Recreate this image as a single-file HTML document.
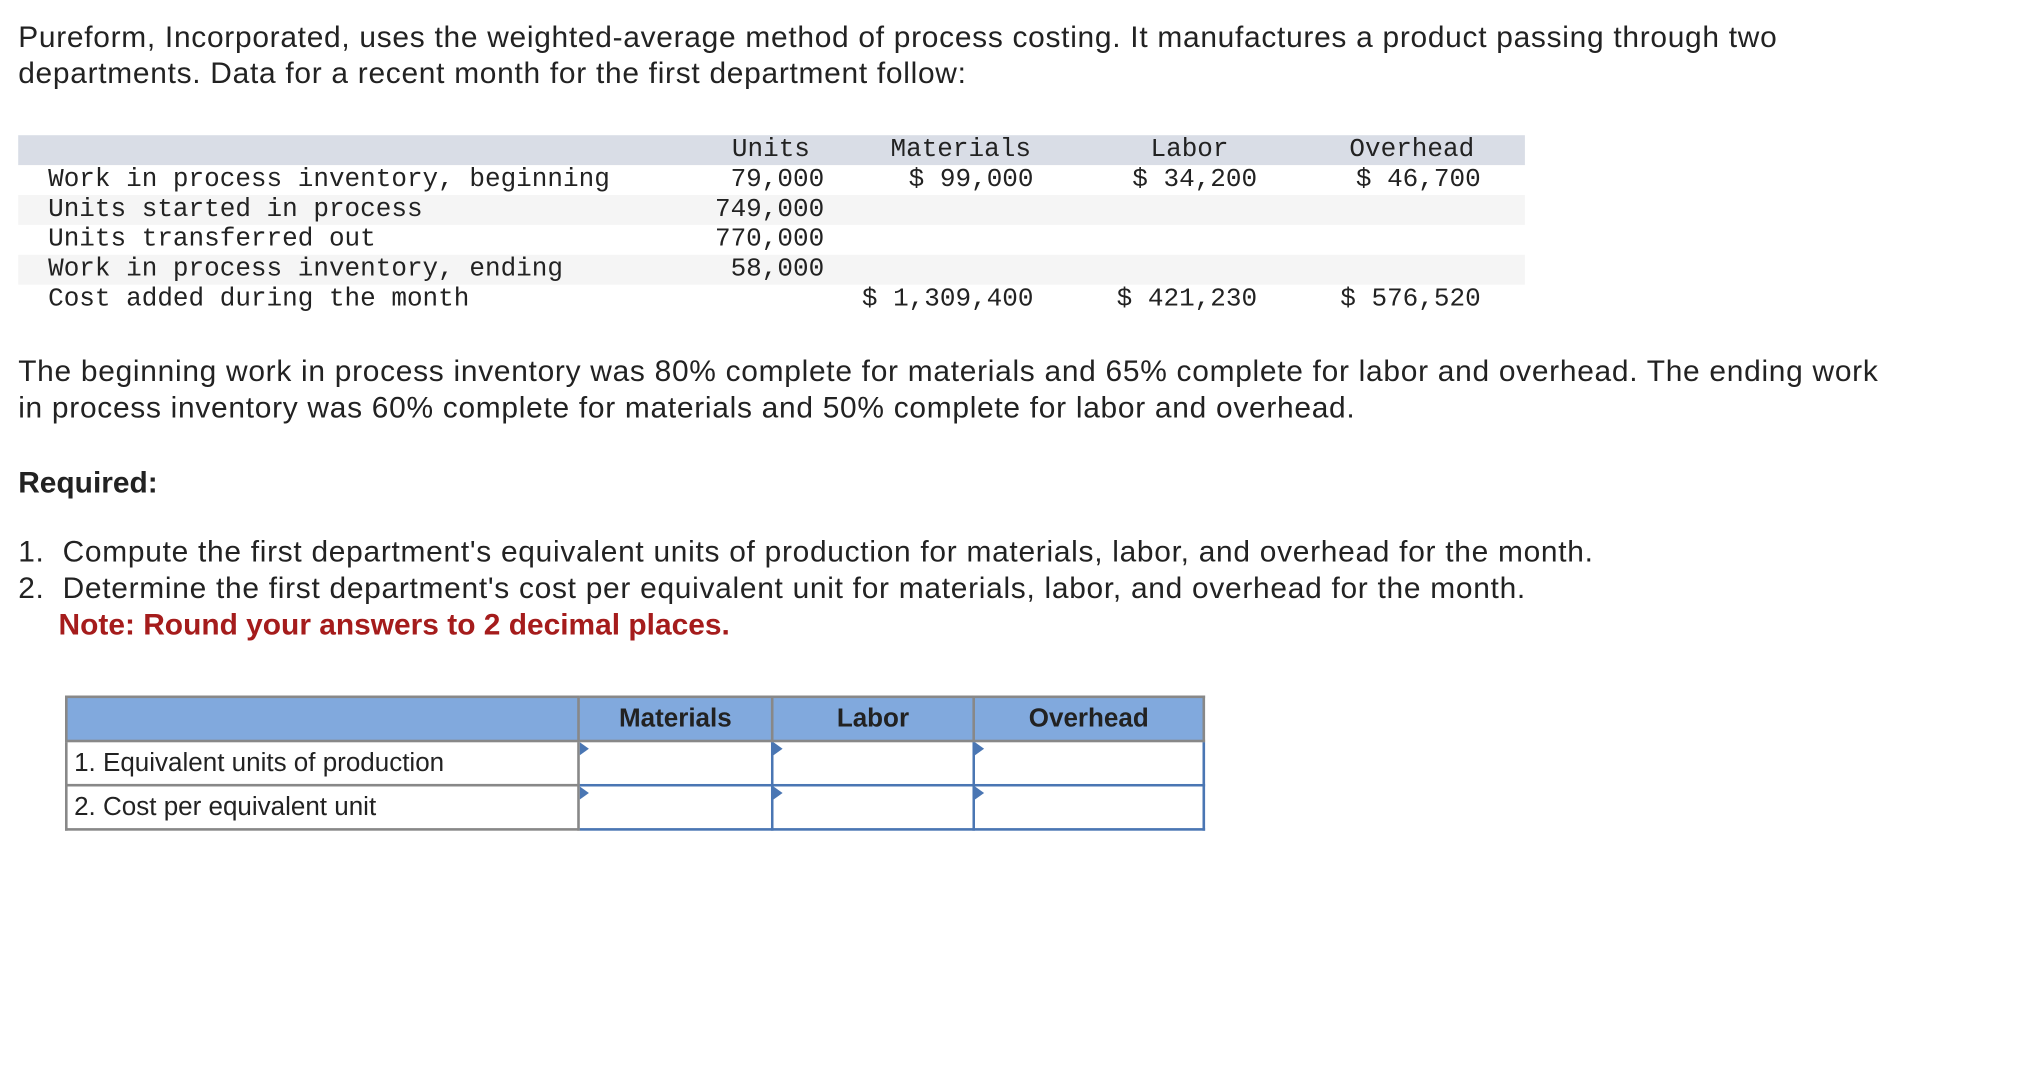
<!DOCTYPE html>
<html><head><meta charset="utf-8"><style>
html,body{margin:0;padding:0;background:#fff;width:2028px;height:1086px;overflow:hidden}
#wrap{position:absolute;left:0;top:0;width:1560px;height:835px;transform:scale(1.3);transform-origin:0 0;font-family:"Liberation Sans",sans-serif;color:#222}
.p{position:absolute;left:14px;font-size:23px;letter-spacing:0.55px;line-height:28px;margin:0;white-space:nowrap}
.mono{font-family:"Liberation Mono",monospace;font-size:20px;color:#222}
.band{position:absolute;left:14px;width:1159px;height:23px}
.t{position:absolute;white-space:pre;line-height:23px}
.r{text-align:right}
table{position:absolute;left:50px;top:535px;border-collapse:collapse;font-size:20px}
td,th{border:2px solid #888;padding:0;height:32px}
th{background:#81a9dd;font-weight:bold;text-align:center}
td.l{padding-left:5px;text-align:left}
td.in{border:2px solid #4a76b3;box-shadow:inset 0 0 0 1px #fff;position:relative}
td.in:before{content:"";position:absolute;left:0;top:0;border-left:7px solid #4a76b3;border-top:5px solid transparent;border-bottom:5px solid transparent}
</style></head><body>
<div id="wrap">
<p class="p" style="top:14px">Pureform, Incorporated, uses the weighted-average method of process costing. It manufactures a product passing through two<br>departments. Data for a recent month for the first department follow:</p>

<div class="mono">
<div class="band" style="top:104px;background:#d9dde6;width:1159px"></div>
<div class="band" style="top:150px;background:#f5f5f5;width:1159px"></div>
<div class="band" style="top:196px;background:#f5f5f5;width:1159px"></div>
<div class="t" style="left:563px;top:104px">Units</div>
<div class="t" style="left:685px;top:104px">Materials</div>
<div class="t" style="left:885px;top:104px">Labor</div>
<div class="t" style="left:1038px;top:104px">Overhead</div>
<div class="t" style="left:37px;top:127px">Work in process inventory, beginning</div>
<div class="t" style="left:37px;top:150px">Units started in process</div>
<div class="t" style="left:37px;top:173px">Units transferred out</div>
<div class="t" style="left:37px;top:196px">Work in process inventory, ending</div>
<div class="t" style="left:37px;top:219px">Cost added during the month</div>
<div class="t r" style="right:926px;top:127px">79,000</div>
<div class="t r" style="right:926px;top:150px">749,000</div>
<div class="t r" style="right:926px;top:173px">770,000</div>
<div class="t r" style="right:926px;top:196px">58,000</div>
<div class="t r" style="right:765px;top:127px">$ 99,000</div>
<div class="t r" style="right:593px;top:127px">$ 34,200</div>
<div class="t r" style="right:421px;top:127px">$ 46,700</div>
<div class="t r" style="right:765px;top:219px">$ 1,309,400</div>
<div class="t r" style="right:593px;top:219px">$ 421,230</div>
<div class="t r" style="right:421px;top:219px">$ 576,520</div>
</div>

<p class="p" style="top:271px">The beginning work in process inventory was 80% complete for materials and 65% complete for labor and overhead. The ending work<br>in process inventory was 60% complete for materials and 50% complete for labor and overhead.</p>
<p class="p" style="top:357px;font-weight:bold;letter-spacing:0">Required:</p>
<p class="p" style="top:410px">1.&nbsp; Compute the first department's equivalent units of production for materials, labor, and overhead for the month.<br>2.&nbsp; Determine the first department's cost per equivalent unit for materials, labor, and overhead for the month.<br><span style="margin-left:31px;color:#a51c1c;font-weight:bold;letter-spacing:0">Note: Round your answers to 2 decimal places.</span></p>

<table>
<tr><th style="width:392px"></th><th style="width:147px">Materials</th><th style="width:153px">Labor</th><th style="width:175px">Overhead</th></tr>
<tr><td class="l">1. Equivalent units of production</td><td class="in"></td><td class="in"></td><td class="in"></td></tr>
<tr><td class="l">2. Cost per equivalent unit</td><td class="in"></td><td class="in"></td><td class="in"></td></tr>
</table>
</div>
</body></html>
